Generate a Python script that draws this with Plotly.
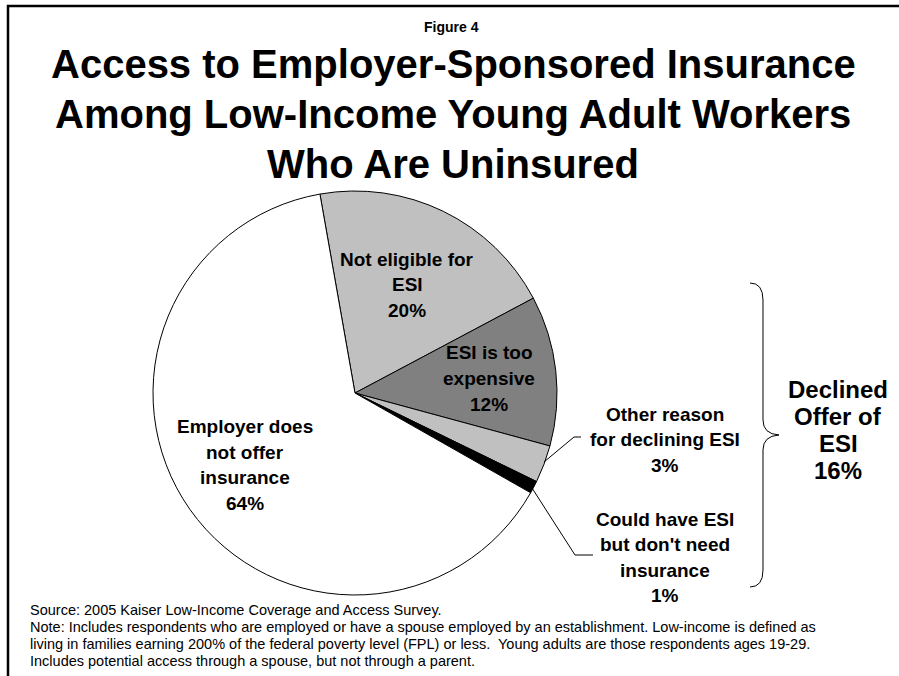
import plotly.graph_objects as go

# Uninsured low-income young adult workers, by access to employer-sponsored insurance
categories = [
    "Not eligible for ESI",
    "ESI is too expensive",
    "Other reason for declining ESI",
    "Could have ESI but don't need insurance",
    "Employer does not offer insurance",
]
values = [20, 12, 3, 1, 64]
label_lines = [
    ["Not eligible for", "ESI"],
    ["ESI is too", "expensive"],
    ["Other reason", "for declining ESI"],
    ["Could have ESI", "but don't need", "insurance"],
    ["Employer does", "not offer", "insurance"],
]
slice_colors = ["#c0c0c0", "#808080", "#c0c0c0", "#000000", "#ffffff"]
declined_idx = [1, 2, 3]

title_lines = [
    "Access to Employer-Sponsored Insurance",
    "Among Low-Income Young Adult Workers",
    "Who Are Uninsured",
]
footnote_lines = [
    "Source: 2005 Kaiser Low-Income Coverage and Access Survey.",
    "Note: Includes respondents who are employed or have a spouse employed by an establishment. Low-income is defined as",
    "living in families earning 200% of the federal poverty level (FPL) or less.  Young adults are those respondents ages 19-29.",
    "Includes potential access through a spouse, but not through a parent.",
]

W, H = 899, 676
FONT = "Liberation Sans, Arial, Helvetica, sans-serif"


def px(x):
    return x / W


def py(y):
    return 1 - y / H


fig = go.Figure()

cx, cy, r = 355, 393, 202
fig.add_trace(go.Pie(
    labels=categories,
    values=values,
    sort=False,
    direction="clockwise",
    rotation=-10,
    marker=dict(colors=slice_colors, line=dict(color="black", width=1)),
    textinfo="none",
    hoverinfo="label+percent",
    showlegend=False,
    domain=dict(x=[px(cx - r), px(cx + r)], y=[py(cy + r), py(cy - r)]),
))

annotations = []


def add_lines(lines, x, y0, dy, size, bold=True, align="center"):
    for i, line in enumerate(lines):
        annotations.append(dict(
            x=px(x), y=py(y0 + i * dy), xref="paper", yref="paper",
            text=f"<b>{line}</b>" if bold else line,
            showarrow=False, xanchor=align, yanchor="middle",
            font=dict(family=FONT, size=size, color="black"),
        ))


# slice labels
label_pos = [
    (407, 259),
    (489, 353),
    (665, 414),
    (665, 519),
    (245, 427),
]
for lines, v, (lx, ly) in zip(label_lines, values, label_pos):
    add_lines(lines + [f"{v}%"], lx, ly, 25.5, 19)

# bracketed group total
declined = sum(values[i] for i in declined_idx)
add_lines(["Declined", "Offer of", "ESI", f"{declined}%"], 838, 389, 27, 24)

# headings
add_lines(["Figure 4"], 451, 27, 0, 14)
add_lines(title_lines, 453, 64, 50, 40)

# footnotes
for i, line in enumerate(footnote_lines):
    annotations.append(dict(
        x=px(28), y=py(610 + i * 17), xref="paper", yref="paper",
        text=line, showarrow=False, xanchor="left", yanchor="middle",
        font=dict(family=FONT, size=14.5, color="black"),
    ))

shapes = []


def path_shape(points, width=1, color="black"):
    d = "M " + " L ".join(f"{px(x):.5f},{py(y):.5f}" for x, y in points)
    shapes.append(dict(type="path", path=d, xref="paper", yref="paper",
                       line=dict(color=color, width=width)))


# leader lines
path_shape([(544, 462), (574, 437), (581, 437)])
path_shape([(532, 488), (575, 555), (593, 555)])

# curly brace around the declined-offer slices
bx, tip = 763, 779
brace = (
    f"M {px(750):.5f},{py(283):.5f} "
    f"Q {px(bx):.5f},{py(283):.5f} {px(bx):.5f},{py(300):.5f} "
    f"L {px(bx):.5f},{py(420):.5f} "
    f"Q {px(bx):.5f},{py(434):.5f} {px(tip):.5f},{py(435):.5f} "
    f"Q {px(bx):.5f},{py(436):.5f} {px(bx):.5f},{py(450):.5f} "
    f"L {px(bx):.5f},{py(570):.5f} "
    f"Q {px(bx):.5f},{py(587):.5f} {px(750):.5f},{py(587):.5f}"
)
shapes.append(dict(type="path", path=brace, xref="paper", yref="paper",
                   line=dict(color="black", width=1)))

# frame along the top and left edges
path_shape([(8, H + 2), (8, 6), (W + 2, 6)], width=2.5)

fig.update_layout(
    width=W, height=H,
    margin=dict(l=0, r=0, t=0, b=0),
    paper_bgcolor="white",
    plot_bgcolor="white",
    annotations=annotations,
    shapes=shapes,
    font=dict(family=FONT),
)

fig.write_html("out.html")
